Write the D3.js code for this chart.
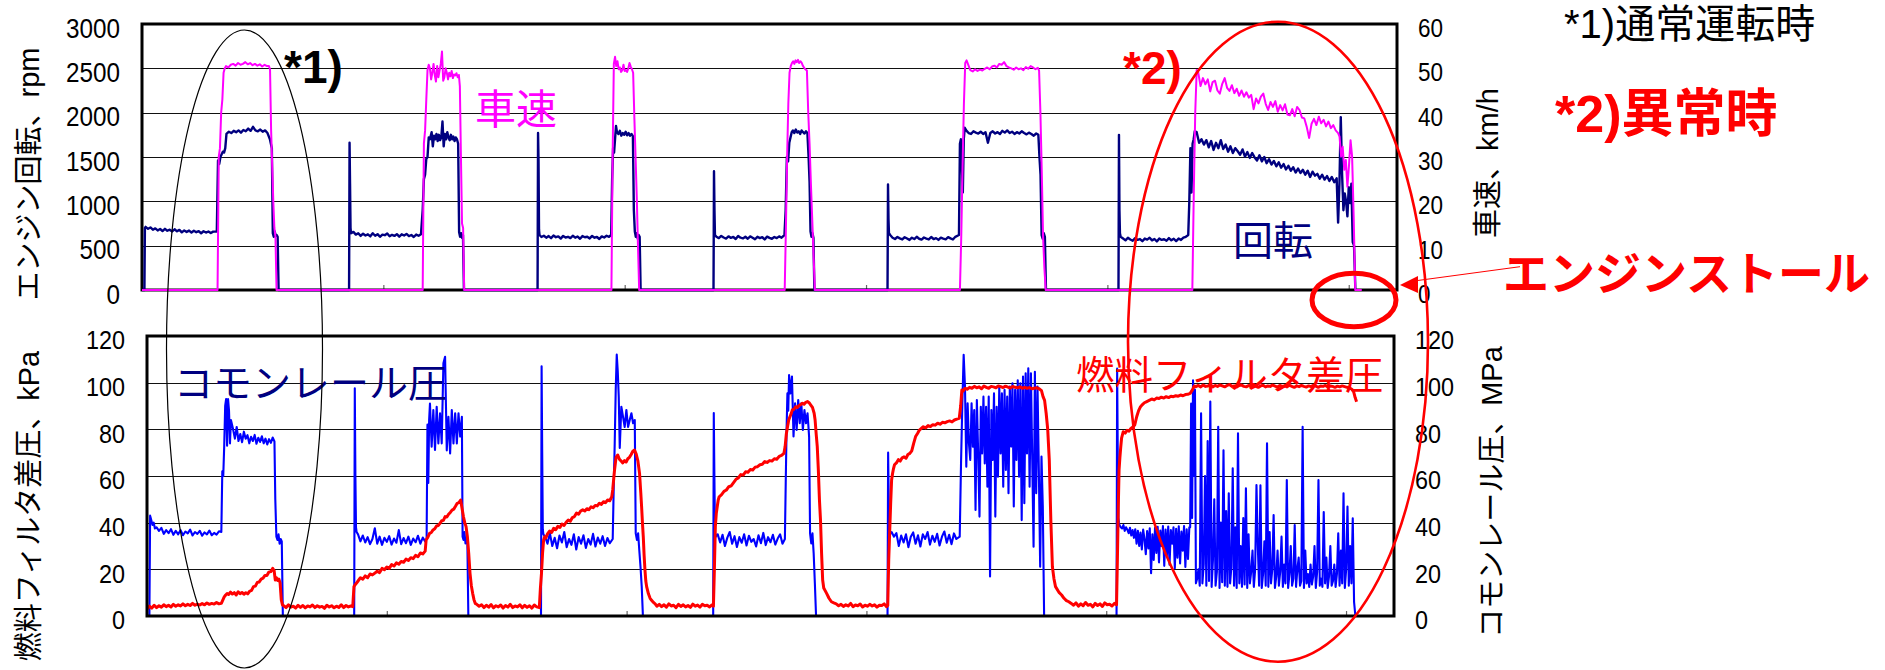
<!DOCTYPE html>
<html>
<head>
<meta charset="utf-8">
<script src="https://cdn.jsdelivr.net/npm/d3@7"></script>
<style>
  body { margin: 0; background: #fff; }
  svg { display: block; }
</style>
</head>
<body>
<svg id="chart" width="1885" height="670"></svg>
<script>
// ---- axis ticks ----
const timeTicks = [100, 200, 300, 400, 500];
const rpmTicks = [0, 500, 1000, 1500, 2000, 2500, 3000];
const speedTicks = [0, 10, 20, 30, 40, 50, 60];
const kpaTicks = [0, 20, 40, 60, 80, 100, 120];
const mpaTicks = [0, 20, 40, 60, 80, 100, 120];

// ---- recorded traces ----
// Each run: [start time, sample step, value, value, ...]

// engine speed, rpm
const engineSpeedRuns = [
  [0, 1.0, 0, 0],
  [1.2, 0.3, 700, 712],
  [2.5, 1, 690, 705, 680, 695, 672, 688, 665, 690, 668, 680, 660, 685, 662, 678, 650, 672, 655, 670, 648, 668, 652, 664, 640, 662, 648, 660, 642, 658],
  [31.0, 0.5, 660, 1460, 1420, 1500, 1530, 1560, 1550, 1600, 1760],
  [36, 1, 1785, 1770, 1795, 1780, 1800, 1775, 1805, 1790, 1820, 1795, 1840, 1800, 1790, 1810, 1785, 1800, 1770],
  [53.0, 0.4, 1700, 1650, 1600, 640, 600, 660, 610, 620, 600, 0],
  [85.8, 0.2, 0, 1660, 1200, 700, 640],
  [87.6, 1, 655, 625, 640, 610, 635, 615, 628, 605, 640, 612, 630, 600, 625, 618, 638, 605, 622, 610, 630, 602, 628, 615, 632, 608, 620, 598, 625, 612, 630],
  [116.3, 0.5, 900, 1250, 1300, 1480, 1500, 1720, 1700],
  [120, 0.5, 1780, 1620, 1740, 1700, 1760, 1680, 1750, 1690, 1720, 1900, 1620, 1760, 1700, 1780, 1720, 1690, 1750, 1700, 1730, 1680, 1720, 1700],
  [131.0, 0.4, 1650, 650, 600, 640, 590, 620, 0],
  [163.9, 0.2, 0, 1770, 1450, 680, 620],
  [165.5, 1, 598, 612, 590, 608, 585, 615, 595, 605, 580, 610, 592, 600, 585, 612, 590, 603, 578, 608, 595, 600, 582, 610, 590, 598, 575, 605, 592, 612, 600],
  [194.4, 0.4, 620, 1250, 1600, 1550, 1700, 1850],
  [196.8, 0.6, 1780, 1760, 1795, 1740, 1770, 1750, 1785, 1745, 1770, 1740, 1760, 1735],
  [203.8, 0.4, 900, 660, 600, 640, 580, 620, 600, 0],
  [236.8, 0.2, 0, 1340, 900, 620],
  [238, 1, 600, 585, 610, 592, 580, 605, 588, 598, 575, 610, 590, 582, 600, 578, 605, 590, 572, 600, 585, 595, 570, 602, 588, 578, 598, 585, 605, 590],
  [266.2, 0.5, 620, 900, 1500, 1450, 1660, 1720, 1780],
  [269.7, 0.6, 1800, 1770, 1810, 1775, 1790, 1760, 1800, 1780, 1765, 1790, 1770],
  [276.2, 0.4, 1500, 1220, 660, 600, 640, 590, 0],
  [308.9, 0.2, 0, 1190, 800, 640],
  [310, 1, 620, 590, 575, 598, 582, 570, 595, 580, 565, 590, 575, 600, 578, 568, 592, 580, 570, 598, 575, 585, 565, 590, 580, 572, 596, 582, 570, 600],
  [338.5, 0.4, 620, 1650, 1700, 1400, 1100, 1700, 1830],
  [341.5, 1, 1800, 1770, 1760, 1790, 1775, 1765, 1785, 1760, 1780, 1660, 1770, 1790, 1765, 1780, 1760, 1795, 1775, 1800, 1770, 1785, 1760, 1780, 1765, 1790, 1770, 1755, 1775, 1760, 1740, 1765],
  [371.4, 0.45, 1750, 1500, 1300, 620, 580, 640, 600, 0],
  [404.6, 0.2, 0, 1750, 900, 640],
  [405.5, 1, 600, 580, 560, 590, 570, 555, 585, 565, 575, 550, 580, 568, 590, 560, 575, 548, 582, 565, 572, 555, 585, 560, 578, 552, 580, 565, 590, 600],
  [433.5, 0.45, 620, 1000, 1600, 1100, 1650, 1700, 1790],
  [437, 1, 1780, 1660, 1700, 1640, 1690, 1610, 1680, 1580, 1660, 1600,
            1690, 1590, 1640, 1560, 1620, 1545, 1600, 1565, 1525, 1585,
            1505, 1555, 1490, 1545, 1495, 1460, 1520, 1450, 1500, 1430,
            1475, 1415, 1455, 1395, 1440, 1380, 1420, 1360, 1400, 1345,
            1385, 1325, 1370, 1320, 1355, 1300, 1345, 1275, 1335, 1290,
            1310, 1255, 1300, 1245, 1285, 1230, 1275, 1215, 1260],
  [495.6, 0.55, 760, 1200, 1950, 1300, 900, 1090, 1000, 830, 1160, 980, 1200, 540, 500, 0]
];

// vehicle speed, km/h
const vehicleSpeedRuns = [
  [0, 31.3, 0, 0],
  [31.8, 0.5, 30, 32, 40, 43, 49, 50],
  [34.8, 1, 50.5, 50.2, 50.8, 51.0, 50.6, 51.2, 50.8, 51.0, 51.4, 50.9, 51.2, 50.7, 51.0, 50.6, 50.9, 50.4, 50.8, 50.5],
  [52.6, 0.45, 50.5, 49.8, 36, 28, 20, 14, 12, 0],
  [116.3, 0.5, 0, 33, 36, 43, 49.6, 50.8],
  [119.3, 0.5, 50, 47.5, 49, 51, 48.5, 47, 50.5, 48, 49.5, 51, 53.8, 47.2, 48, 50, 49, 47.5, 49, 48.2, 49.4, 47.8, 48.6, 48.4, 48.9, 48, 48.5],
  [131.7, 0.45, 46, 30, 15, 14, 0],
  [194.5, 0.5, 0, 30, 51, 52.6],
  [196.5, 0.5, 50.5, 51.6, 49.8, 50.2, 49.2, 49.6, 50.8, 49.4, 49.6, 49.2, 50.0, 51.2, 50.4, 49.8],
  [203.5, 0.5, 49.0, 39, 30, 21, 10, 0],
  [266.3, 0.5, 0, 14, 30, 42, 49, 50.5],
  [269.3, 0.5, 51.2, 51.6, 51.0, 51.8, 51.4, 51.9, 51.2, 51.6, 51.3, 50.6, 50.2, 49.8],
  [275.5, 0.55, 49.5, 40, 33, 24, 16, 8, 0],
  [338.9, 0.55, 0, 12, 28, 42, 51.2, 51.8],
  [342.2, 1, 51.0, 49.6, 49.3, 49.8, 49.4, 49.7, 49.5, 49.9, 50.2, 49.8, 50.4, 50.6, 50.2, 51.0, 50.8, 51.4, 50.5, 50.2, 50.0, 49.7, 50.2, 49.8, 50.0, 49.6, 50.3, 49.9, 50.5, 50.2, 49.8, 50.1],
  [371.7, 0.55, 49.5, 40, 27, 12, 5, 0],
  [435.2, 0.6, 0, 22, 40, 49.6],
  [437.6, 1, 49.2, 46.0, 47.8, 46.4, 47.5, 44.8, 46.9, 47.2, 45.0, 44.3,
             46.5, 47.8, 45.6, 44.9, 46.2, 44.4, 45.4, 43.8, 45.0, 43.6,
             44.6, 43.4, 44.0, 40.8, 43.2, 42.1, 43.6, 44.3, 42.0, 40.6,
             42.4, 41.3, 42.6, 40.2, 41.7, 40.5, 41.9, 39.6, 39.4, 40.8,
             39.2, 41.3, 40.6, 38.9, 38.7, 36.8, 34.3, 37.5, 38.6, 37.2,
             39.1, 37.6, 38.4, 36.9, 38.0, 36.5, 37.2, 36.0, 35.4],
  [496.2, 0.65, 34.6, 30.1, 32.3, 27.1, 29.3, 23.3, 28, 33.8, 30.1, 16.5, 0, 0],
  [505.4, 1, 0]
];

// common rail pressure, MPa
const railPressureRuns = [
  [0, 1.0, 0, 0],
  [1.3, 0.5, 43, 41, 39, 40, 37.5],
  [4, 1, 38, 36.5, 37.8, 35.2, 36.8, 35.5, 37.2, 34.8, 36.5, 35.0, 36.8, 34.6, 36.2, 35.4, 37.0, 34.5, 36.0, 35.2, 36.5, 34.4, 35.8, 35.0, 36.6, 34.6, 35.6, 34.9, 36.3],
  [31.0, 0.4, 36, 62, 60, 73, 90, 93, 73, 93, 88, 74, 84],
  [35.9, 0.75, 80, 76, 81, 75, 78, 74.5, 79, 76, 77.5, 74, 76.8, 75, 77.6, 73.8, 76.4, 74.6, 77, 74, 76, 73.5, 75.8, 74.2, 76.5, 74.8],
  [53.5, 0.45, 50, 34, 32.6, 35, 31, 33, 32, 0],
  [86.4, 0.25, 0, 97.6, 60, 38, 36],
  [88, 1, 35, 32, 34.5, 31.5, 33.8, 30.8, 33, 37.6, 31, 34, 30.5, 33.5, 31.8, 34.2, 30.6, 33.2, 31.4, 36.8, 30.8, 33.4, 31.2, 34, 30.5, 33.2, 31.6, 34.4, 31, 33.6, 32],
  [116.6, 0.35, 33, 82, 57, 84],
  [118.0, 0.7, 91, 72.6, 88.3, 71.2, 89.7, 74, 86.9, 74, 108.3, 111.1, 71, 85.4, 69.7, 88.3, 74, 86.9, 74, 86.9, 76.9, 85.4],
  [131.6, 0.4, 34, 32.6, 36, 31.1, 33, 31, 0],
  [164.3, 0.25, 0, 107, 70, 37, 35],
  [166, 1, 34, 31, 35.5, 30, 33.5, 29, 34.5, 31.5, 36, 29.5, 33, 30.5, 35, 28.5, 33.8, 31, 34.6, 29.2, 33, 30.6, 35.2, 29.8, 33.6, 31, 34.2, 30, 33.4, 31.2],
  [194.2, 0.42, 33, 55, 74, 97, 112, 105, 94, 72],
  [197.8, 0.7, 89.7, 85.4, 81, 88.3, 81, 84, 86.9, 82.6, 84],
  [203.8, 0.5, 35.4, 32.6, 35.4, 28, 21, 12.6, 0],
  [236.1, 0.25, 0, 87, 60, 36, 34],
  [238, 1, 35, 31.5, 34.8, 30, 33.6, 36, 31, 34.2, 29.6, 33.8, 31.4, 35, 30.2, 34.4, 31.8, 33, 29.8, 34.6, 31.2, 35.6, 30.4, 33.8, 31.6, 34.8, 30.6, 33.2, 35, 31],
  [266.0, 0.35, 33, 57, 79.7, 95.4, 88, 103.3],
  [268.3, 0.65, 95.4, 102.6, 76.9, 91.2, 79.7, 92.6, 82.6, 91.2, 79.7, 88.3, 82.6, 86.9, 76.9],
  [276.5, 0.5, 35.4, 31.1, 35.4, 26.9, 14, 0],
  [308.8, 0.25, 0, 70, 50, 37, 35],
  [310.5, 1, 36, 34, 35.5, 30, 34.5, 31.5, 35, 29.5, 34, 35.8, 31, 34.6, 29.8, 35, 33, 36, 30.6, 34.4, 31.8, 35.2, 30.2, 34, 36.2, 31.4, 34.8, 30.8, 35.4, 33],
  [338.9, 0.55, 34, 65.4, 91.2, 111.9, 98.3, 64, 91.2, 74, 66.9, 91.2,
                72.6, 88.3, 45.4, 92.6, 69.7, 42.6, 89.7, 69.7, 94, 65.4,
                89.7, 55.4, 94, 16.9, 88.3, 66.9, 95.4, 42.6, 89.7, 59.7,
                98.3, 69.7, 95.4, 55.4, 96.9, 62.6, 94, 52.6, 98.3, 72.6,
                99.7, 46.9, 96.9, 66.9, 101, 59.7, 99.7, 41.1, 102.6, 48.3,
                104, 69.7, 106.2, 55.4, 104, 66.9, 29.7, 104.7, 52.6, 98.3,
                62.6, 21.1, 68.3, 46.9, 0],
  [404.3, 0.25, 0, 106, 70, 42, 40],
  [405.5, 0.55, 39, 38, 37.5, 39, 36.5, 38, 37, 35.5, 37.8, 34.5,
                36.8, 33.5, 37.2, 31, 36.5, 30, 35.8, 28.5, 37, 33,
                26.5, 36.4, 29, 37.6, 18.3, 35, 24, 37.8, 27, 38.2,
                23, 36.6, 30, 38.5, 21.5, 37, 26, 38.3, 22, 36.8,
                31, 38, 20.5, 37.4, 25, 38.4, 22.5, 36.2, 28, 38.6,
                21, 37.2, 24.5, 38],
  [435.0, 0.4, 38, 91, 42, 101, 60, 97, 14],
  [437.9, 0.55, 16, 20, 13, 86.9, 14, 22, 60, 13, 75, 15,
                91.9, 12.5, 24, 50, 13, 19, 81.1, 12, 40, 14.5,
                71, 13, 45, 12.5, 52.6, 14, 21, 63.3, 13, 38,
                12, 78.3, 14, 30, 12.5, 42, 13.5, 54.7, 12, 35,
                14, 19, 28, 12.5, 20, 56.1, 30, 13, 56, 12,
                18, 32, 13, 74, 12.5, 36, 14, 20, 43.3, 12,
                17, 28, 13, 19, 34, 12.5, 22, 14, 58.3, 12,
                18, 30, 13, 16, 39, 12.5, 20, 25, 13, 15,
                81.1, 12, 28, 14, 18, 12.5, 22, 13.5, 17, 30,
                12, 19, 58.3, 13, 16, 12.5, 44.6, 14, 25, 12,
                17, 30, 13, 15, 22, 12.5, 18, 35.4, 13, 28,
                14, 52.6, 12, 20, 46.9, 13, 30, 14, 41.9, 6,
                0]
];

// fuel filter differential pressure, kPa
const filterDiffRuns = [
  [0, 1, 3, 4.2, 3.4, 4.6, 3.6, 4.4, 3.8, 4.8, 4.0, 4.6, 3.9, 5.0, 4.2, 4.8, 4.3, 5.2, 4.4, 5.0, 4.5, 5.4, 4.6, 5.1, 4.7, 5.3, 4.8, 5.6, 5.0, 5.4, 5.1, 5.8, 5.2],
  [31, 0.6, 5.4, 6.8, 8.2, 9, 9.6],
  [34, 0.8, 9.2, 10.2, 9.4, 10.0, 9.0, 10.4, 9.6, 10.1, 9.3, 10.0, 9.5, 10.6],
  [43.6, 0.8, 11, 12.6, 12.8, 14.4, 14.6, 15.8, 16.2, 17.4, 17.4, 18.8, 19.0, 20.4],
  [53.0, 0.5, 19.5, 15.4, 16.4, 15.2, 15.8, 14.2, 6.9, 4.7],
  [57, 1, 4.4, 3.6, 4.8, 3.8, 4.2, 3.4, 4.6, 3.7, 4.5, 3.5, 4.3, 3.9, 4.7, 3.6, 4.4, 3.8, 4.1, 3.3, 4.6, 3.9, 4.4, 3.5, 4.2, 3.7, 4.8, 3.6, 4.5, 3.9, 4.3],
  [85.8, 0.5, 4, 12.6, 13.4, 14],
  [88, 1, 15.0, 16.4, 15.8, 17.2, 16.4, 18.0, 17.6, 18.4, 19.2, 18.6, 20.4, 19.8, 21.0, 20.4, 22.0, 21.4, 22.8, 22.2, 23.4, 23.0, 24.4, 23.8, 25.0, 24.6, 26.0, 25.4, 27.0, 26.6, 27.8],
  [116.4, 0.72, 32.6, 33.8, 35.4, 35.8, 36.9, 37.4, 38.6, 38.8, 39.7, 40.8, 41.0, 42.6, 42.4, 43.6, 44.4, 45.4, 45.8, 47.0, 48.3, 48.6, 49.7],
  [131.4, 0.55, 46, 42.6, 40, 38.3, 34, 26.9, 18.3, 13, 9.7, 7, 5.4],
  [137.5, 1, 5, 4.2, 4.8, 3.6, 4.6, 3.8, 4.9, 3.5, 4.4, 3.9, 4.7, 3.4, 4.5, 3.8, 5.0, 3.6, 4.3, 3.9, 4.8, 3.5, 4.6, 3.7, 4.4, 3.4, 4.7, 3.9],
  [163.6, 0.45, 3.6, 12, 18.3, 26.9, 32.6, 34, 33.4],
  [167, 0.865, 35.2, 36.4, 35.8, 37.6, 37.0, 38.4, 38.0, 39.4, 38.8, 40.2, 41.1, 40.6, 42.2, 42.6, 44.1, 43.6, 45.0, 45.5, 45.0, 46.0, 45.6, 46.8, 46.4, 47.4, 47.2, 48.3, 47.8, 49.0, 48.6, 49.7, 49.4, 51.1],
  [194.2, 0.7, 54, 62, 68, 69, 67.2, 66.4, 65.6, 66.6, 66.0, 67.4, 68.0, 69.2, 70.6, 71.1, 69.4, 66.5, 61],
  [205.9, 0.35, 53, 46.9, 40, 34, 26, 19.7, 15, 12.6],
  [209.1, 0.7, 9.5, 7.6, 6.6, 5.8, 5.2],
  [212.6, 1, 4.2, 5.0, 4.0, 4.8, 3.8, 5.2, 4.3, 4.6, 3.6, 5.0, 4.1, 4.8, 3.9, 4.5, 3.7, 5.1, 4.2, 4.7, 3.8, 5.0, 4.4, 4.6, 3.9, 4.8],
  [236.2, 0.4, 4.2, 20, 38.3, 44, 46.9, 49.7, 51.1],
  [239.6, 1, 52, 53.4, 54, 55.4, 55.8, 57.2, 58.6, 59.2, 60.6, 60.4, 61.8, 61.6, 62.8, 62.6, 63.8, 64.0, 64.8, 65.0, 66.2, 65.8, 66.6, 66.4, 67.4, 67.2, 68.4, 68.8, 69.7],
  [266.1, 0.5, 72.6, 78, 81.1, 84, 85.4, 86.6, 88.3],
  [269.8, 0.7, 88.6, 89.7, 89.4, 90.2, 90.6, 91.2, 90.8, 91.6, 91.9, 91.4, 90.4, 89.4, 86.9],
  [278.6, 0.45, 84, 78, 72.6, 62.6, 50, 41.1, 26.9, 15.4, 12],
  [283.4, 1, 9.7, 7.6, 6.1, 5.6],
  [287.4, 1, 5.2, 4.4, 5.0, 4.1, 4.8, 4.3, 5.4, 4.0, 4.7, 4.4, 5.1, 3.9, 4.6, 4.2, 5.0, 4.3, 4.8, 3.8, 4.6, 4.5, 5.2, 4.0],
  [308.9, 0.4, 4.5, 24, 36, 48, 58.3, 61.1, 63.2, 64.8],
  [312.5, 0.8, 65.6, 67.0, 66.4, 67.8, 68.2, 67.6, 69.2, 69.7, 70.8, 74, 76.9, 78.2, 79.7, 80.4, 81.1],
  [324.7, 1, 80.6, 81.6, 81.2, 82.0, 81.8, 82.6, 82.2, 83.0, 82.8, 83.3, 83.6, 83.2, 84.0, 84.4, 84.7],
  [339.3, 0.5, 90, 96.9, 96.4, 97.2, 97.6],
  [342, 1, 97.2, 98.0, 97.6, 98.4, 97.8, 98.2, 97.4, 98.6, 98.0, 97.6, 98.4, 98.2, 97.8, 98.6, 98.3, 97.9, 98.5, 98.1, 97.7, 98.4, 98.0, 97.8, 98.2, 97.6, 98.0, 97.6, 97.9, 97.4, 97.6, 97.8, 97.4],
  [373.0, 0.65, 96.6, 94, 92.4, 86.9, 80, 66.9, 41, 21.1, 16, 12.6],
  [380.4, 1, 10, 9, 7.6, 6.6, 6.1, 5.4],
  [386.4, 1, 4.6, 5.6, 4.2, 5.2, 4.4, 5.8, 4.6, 5.0, 3.9, 5.4, 4.5, 5.2, 4.1, 5.6, 4.8, 5.0, 4.3, 5.4],
  [404.3, 0.35, 4.8, 24, 45, 62.6, 68, 72.4, 76.2],
  [407.1, 0.8, 79, 78.4, 79.6, 79.2, 80.4, 81.0, 81.9, 85.4, 88, 89.7, 90.6, 91.4, 91.8, 92.2, 92.6],
  [419, 1, 93.0, 92.6, 93.4, 93.2, 93.8, 93.4, 94.0, 93.6, 94.2, 94.0, 94.4, 94.2, 94.7, 94.4, 94.9, 95.0, 95.4],
  [436, 0.7, 97, 98.6, 98.3],
  [438.4, 1, 98.8, 98.2, 99.0, 98.4, 98.6, 99.2, 98.2, 98.8, 98.4, 99.0,
             98.6, 98.2, 98.8, 99.2, 98.4, 98.6, 98.1, 98.8, 99.0, 98.4,
             98.2, 98.8, 98.6, 99.2, 98.4, 98.0, 98.6, 98.9, 98.2, 98.6,
             98.4, 99.0, 98.5, 98.1, 98.8, 98.4, 98.6, 98.2, 98.9, 98.4,
             98.0, 98.6, 98.3, 98.8, 98.4, 98.1, 98.6, 98.3, 98.9, 98.5,
             98.0, 98.6, 98.4, 98.8, 98.2, 98.6, 98.4, 98.0, 98.5, 98.2,
             98.6, 98.3, 98.0, 97.8, 97.2],
  [503.2, 0.6, 96, 93.6, 91.8]
];

// ---- layout ----
const W = 1885, H = 670;
const upper = { left: 142, right: 1397, top: 24, bottom: 290 };
const lower = { left: 147, right: 1394, top: 336, bottom: 616 };
const timeDomain = [0, 520];
const textFont = "'Liberation Sans', Arial, 'Noto Sans CJK JP', sans-serif";

const svg = d3.select("#chart");
svg.append("rect").attr("width", W).attr("height", H).attr("fill", "#fff");

function toPoints(runs) {
  const pts = [];
  runs.forEach(r => {
    for (let i = 2; i < r.length; i++) pts.push([r[0] + (i - 2) * r[1], r[i]]);
  });
  return pts;
}

// scales
const xUpper = d3.scaleLinear().domain(timeDomain).range([upper.left, upper.right]);
const yRpm = d3.scaleLinear().domain([0, 3000]).range([upper.bottom, upper.top]);
const ySpeed = d3.scaleLinear().domain([0, 60]).range([upper.bottom, upper.top]);
const xLower = d3.scaleLinear().domain(timeDomain).range([lower.left, lower.right]);
const yKpa = d3.scaleLinear().domain([0, 120]).range([lower.bottom, lower.top]);
const yMpa = d3.scaleLinear().domain([0, 120]).range([lower.bottom, lower.top]);

function gridAndTicks(panel, yScale, yTicks, xScale) {
  const g = svg.append("g");
  const grid = g.append("g")
    .attr("transform", `translate(${panel.left},0)`)
    .call(d3.axisLeft(yScale).tickValues(yTicks).tickSize(-(panel.right - panel.left)).tickFormat(""));
  grid.select(".domain").remove();
  grid.selectAll(".tick line").attr("stroke", "#111").attr("stroke-width", 1).attr("shape-rendering", "crispEdges");
  const xt = g.append("g")
    .attr("transform", `translate(0,${panel.bottom})`)
    .call(d3.axisBottom(xScale).tickValues(timeTicks).tickSize(-5).tickFormat(""));
  xt.select(".domain").remove();
  xt.selectAll(".tick line").attr("stroke", "#666").attr("stroke-width", 1.2);
}

function tickLabels(panel, yScale, ticks, side, size, offset) {
  const axis = side === "left" ? d3.axisLeft(yScale) : d3.axisRight(yScale);
  const x = side === "left" ? panel.left : panel.right;
  const g = svg.append("g").attr("transform", `translate(${x},0)`)
    .call(axis.tickValues(ticks).tickSize(0).tickFormat(d3.format("d")));
  g.select(".domain").remove();
  g.selectAll(".tick line").remove();
  g.selectAll("text")
    .attr("x", 0).attr("dy", null)
    .attr("text-anchor", side === "left" ? "end" : "start")
    .attr("transform", `translate(${side === "left" ? -offset : offset},${3.4 + 0.358 * size}) scale(0.9,1)`)
    .attr("fill", "#000")
    .style("font-family", textFont)
    .style("font-size", size + "px");
}

function frame(panel) {
  svg.append("rect")
    .attr("x", panel.left).attr("y", panel.top)
    .attr("width", panel.right - panel.left).attr("height", panel.bottom - panel.top)
    .attr("fill", "none").attr("stroke", "#000").attr("stroke-width", 3);
}

function trace(points, xScale, yScale, color, width) {
  svg.append("path")
    .datum(points)
    .attr("fill", "none")
    .attr("stroke", color)
    .attr("stroke-width", width)
    .attr("stroke-linejoin", "round")
    .attr("d", d3.line().x(d => xScale(d[0])).y(d => yScale(d[1])));
}

// ---- upper panel: engine speed & vehicle speed ----
gridAndTicks(upper, yRpm, rpmTicks, xUpper);
frame(upper);
trace(toPoints(engineSpeedRuns), xUpper, yRpm, "#000080", 2.4);
trace(toPoints(vehicleSpeedRuns), xUpper, ySpeed, "#ff00ff", 2);
tickLabels(upper, yRpm, rpmTicks, "left", 27, 22);
tickLabels(upper, ySpeed, speedTicks, "right", 25, 21);

// ---- lower panel: fuel filter differential pressure & common rail pressure ----
gridAndTicks(lower, yKpa, kpaTicks, xLower);
trace(toPoints(railPressureRuns), xLower, yMpa, "#0000ff", 2.1);
trace(toPoints(filterDiffRuns), xLower, yKpa, "#ff0000", 3);
frame(lower);
tickLabels(lower, yKpa, kpaTicks, "left", 26, 22);
tickLabels(lower, yMpa, mpaTicks, "right", 26, 21);

// ---- axis titles ----
function vTitle(x, y, text) {
  svg.append("text")
    .attr("transform", `translate(${x},${y}) rotate(-90)`)
    .attr("text-anchor", "middle")
    .style("font-family", textFont)
    .style("font-size", "29px")
    .attr("fill", "#000")
    .text(text);
}
vTitle(39, 174, "エンジン回転、rpm");
vTitle(1498, 163, "車速、km/h");
vTitle(39, 506, "燃料フィルタ差圧、kPa");
vTitle(1502, 492, "コモンレール圧、MPa");

// ---- labels and notes ----
function note(x, y, text, size, color, weight) {
  svg.append("text")
    .attr("x", x).attr("y", y)
    .style("font-family", textFont)
    .style("font-size", size + "px")
    .style("font-weight", weight || "normal")
    .attr("fill", color)
    .text(text);
}
note(475, 124, "車速", 41, "#ff00ff");
note(1233, 255, "回転", 40, "#000080");
note(174, 397, "コモンレール圧", 39, "#000080");
note(1076, 389, "燃料フィルタ差圧", 38.5, "#ff0000");
note(284, 83, "*1)", 46, "#000", "bold");
note(1123, 84, "*2)", 46, "#ff0000", "bold");
note(1564, 38, "*1)通常運転時", 40, "#000");
note(1555, 132, "*2)異常時", 52, "#ff0000", "bold");
note(1503, 290, "エンジンストール", 46, "#ff0000", "bold");

// ---- highlight rings ----
svg.append("ellipse")
  .attr("cx", 244.5).attr("cy", 349).attr("rx", 78).attr("ry", 319)
  .attr("fill", "none").attr("stroke", "#000").attr("stroke-width", 1.2);
svg.append("ellipse")
  .attr("cx", 1278).attr("cy", 341.7).attr("rx", 150).attr("ry", 320)
  .attr("fill", "none").attr("stroke", "#ff0000").attr("stroke-width", 2.6);
svg.append("ellipse")
  .attr("cx", 1354).attr("cy", 300).attr("rx", 42).attr("ry", 26.8)
  .attr("fill", "none").attr("stroke", "#ff0000").attr("stroke-width", 5);

// ---- pointer to the stall ----
svg.append("line")
  .attr("x1", 1520).attr("y1", 266.7).attr("x2", 1414).attr("y2", 281)
  .attr("stroke", "#ff0000").attr("stroke-width", 1);
svg.append("path")
  .attr("d", "M1400,285 L1418,276 L1418,293 Z")
  .attr("fill", "#ff0000");
</script>
</body>
</html>
